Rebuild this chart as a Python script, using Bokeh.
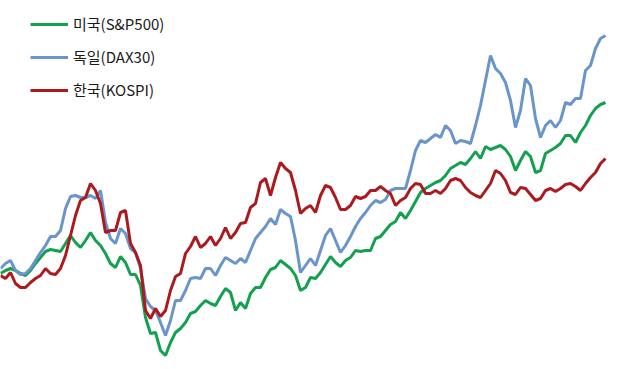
from bokeh.plotting import figure
from bokeh.models import Range1d, Legend, LegendItem
from bokeh.embed import file_html
from bokeh.resources import INLINE

# month index (every point one period)
months = list(range(122))

# index levels (arbitrary units)
sp500_y = [273,270,268,270,273,275,270,263,257,251,249,250,251,243,235,242,247,240,232,240,
           245,253,263,267,256,262,274,274,285,317,333,332,350,355,342,332,328,322,313,311,
           305,300,303,305,296,288,292,310,302,308,293,287,287,277,269,267,260,264,268,275,
           290,287,277,278,272,264,256,262,266,260,257,250,251,250,250,238,236,230,224,221,
           212,218,210,201,192,188,185,182,180,175,168,165,162,164,158,151,158,146,149,147,
           145,149,156,170,160,151,156,172,170,153,150,147,143,135,135,142,132,125,115,108,
           104,102]
dax30_y = [268,263,260,270,274,273,268,260,252,245,236,236,230,208,196,195,197,197,195,198,
           190,222,238,243,228,233,248,252,268,298,306,310,322,335,320,300,300,290,278,277,
           278,268,268,275,265,257,260,263,258,262,250,238,232,226,218,224,209,213,216,240,
           272,265,258,265,250,235,228,240,252,245,236,226,218,212,205,200,202,199,190,188,
           188,188,170,150,140,142,138,134,137,125,130,143,140,141,143,125,105,80,55,68,
           73,82,100,127,110,78,85,118,137,125,120,127,120,102,104,98,98,70,65,48,
           38,35]
kospi_y = [275,278,272,283,287,287,282,278,275,268,273,274,268,255,235,215,200,197,183,190,
           203,232,230,230,212,210,243,252,265,310,318,308,316,310,290,276,273,253,246,236,
           247,243,236,245,238,227,238,232,223,222,207,203,182,178,195,177,162,168,172,190,
           213,208,205,212,195,185,187,197,209,209,205,196,198,196,190,190,186,190,193,205,
           200,197,188,183,184,193,193,190,193,188,180,178,180,187,192,195,197,190,183,170,
           173,180,192,194,187,188,194,200,198,190,188,191,188,184,183,186,190,183,177,172,
           163,158]

sp500 = [380 - v for v in sp500_y]
dax30 = [380 - v for v in dax30_y]
kospi = [380 - v for v in kospi_y]

labels = ["미국(S&P500)", "독일(DAX30)", "한국(KOSPI)"]
colors = ["#13a14f", "#6a95cb", "#ab1a1f"]

p = figure(width=609, height=361, output_backend="svg", toolbar_location=None,
           x_range=Range1d(0, 121.8), y_range=Range1d(19, 380), min_border=0)
p.axis.visible = False
p.grid.visible = False
p.outline_line_color = None
p.background_fill_color = "white"
p.border_fill_color = "white"

r1 = p.line(months, sp500, line_color=colors[0], line_width=3)
r2 = p.line(months, dax30, line_color=colors[1], line_width=3)
r3 = p.line(months, kospi, line_color=colors[2], line_width=3)

legend = Legend(items=[LegendItem(label=labels[0], renderers=[r1]),
                       LegendItem(label=labels[1], renderers=[r2]),
                       LegendItem(label=labels[2], renderers=[r3])],
                location=(30, 261), margin=0, padding=0, spacing=12,
                glyph_width=38, glyph_height=20, label_height=20,
                label_standoff=5, border_line_color=None,
                background_fill_alpha=0,
                label_text_font="Noto Sans CJK KR", label_text_font_size="15px",
                label_text_color="#1a1a1a")
p.add_layout(legend)

open("out.html", "w").write(file_html(p, INLINE))
